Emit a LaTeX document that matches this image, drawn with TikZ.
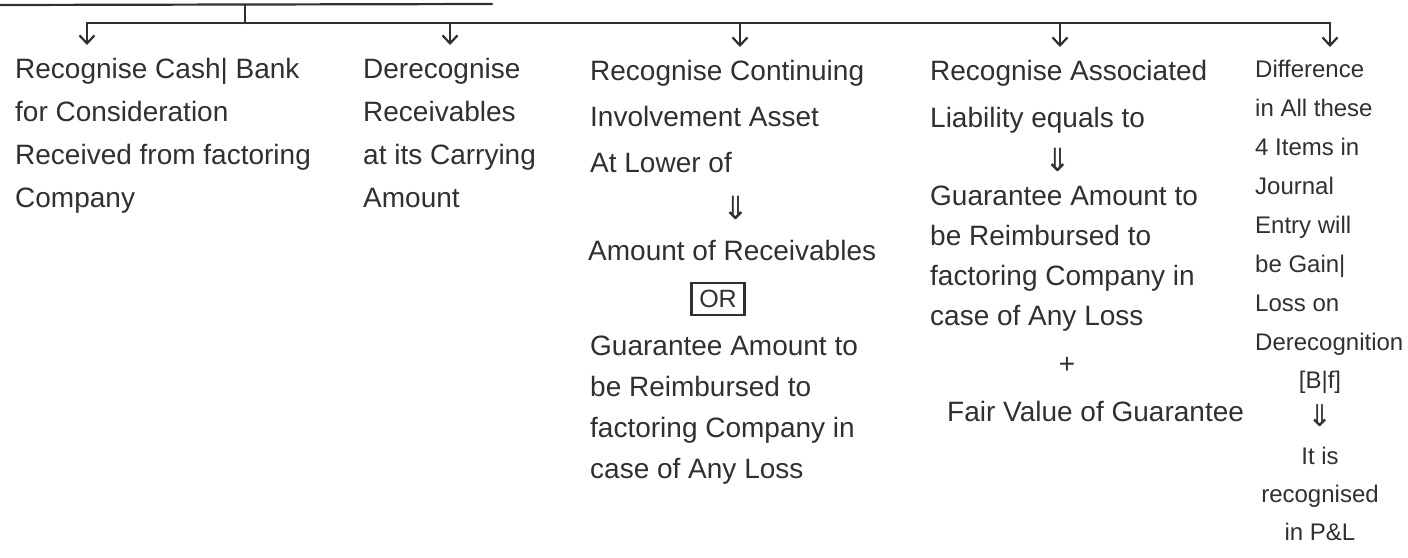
\documentclass[tikz,border=0pt]{standalone}
\usepackage{fontspec}
\setmainfont{Liberation Sans}
\newfontfamily\symfont{DejaVu Sans}
\usetikzlibrary{arrows.meta,positioning}
\definecolor{ink}{HTML}{303030}

\begin{document}
\begin{tikzpicture}[x=1pt,y=-1pt,
  wire/.style={draw=ink,line width=2.2pt,line cap=round},
  down/.style={wire,-{Straight Barb[length=8pt,width=15pt,line width=2.2pt]},shorten >=13pt},
  txt/.style={text=ink,align=left,inner sep=0pt,anchor=north west,font=\fontsize{28}{43}\selectfont},
  smalltxt/.style={txt,font=\fontsize{24}{39}\selectfont},
  dbl/.style={text=ink,inner sep=0pt,font=\symfont\fontsize{32}{32}\selectfont},
  orbox/.style={draw=ink,line width=2.2pt,text=ink,inner sep=0pt,minimum width=53pt,minimum height=32pt,font=\fontsize{25}{25}\selectfont}]
\useasboundingbox (0,0) rectangle (1408,557);
\coordinate (h0) at (0,5);
\coordinate (h1) at (492,4);
\coordinate (s) at (245,5);
\coordinate (bs) at (245,23);
\coordinate (b1) at (87,23);
\coordinate (b2) at (450,23);
\coordinate (b3) at (740,23);
\coordinate (b4) at (1060,23);
\coordinate (b5) at (1330,23);
\node[txt] (cash) at (15,58) {Recognise Cash| Bank\\for Consideration\\Received from factoring\\Company};
\node[txt] (derec) at (363,58) {Derecognise\\Receivables\\at its Carrying\\Amount};
\node[txt,font=\fontsize{28}{46}\selectfont] (cia) at (590,60) {Recognise Continuing\\Involvement Asset\\At Lower of};
\node[dbl] (cia-d) at (736,208) {⇓};
\node[txt] (amt) at (588,240) {Amount of Receivables};
\node[orbox] (or) at (718,299) {OR};
\node[txt,font=\fontsize{28}{41}\selectfont] (guar) at (590,336) {Guarantee Amount to\\be Reimbursed to\\factoring Company in\\case of Any Loss};
\node[txt,font=\fontsize{28}{47}\selectfont] (liab) at (930,60) {Recognise Associated\\Liability equals to};
\node[dbl] (liab-d) at (1058,160) {⇓};
\node[txt,font=\fontsize{28}{40}\selectfont] (guar2) at (930,186) {Guarantee Amount to\\be Reimbursed to\\factoring Company in\\case of Any Loss};
\node[txt,anchor=center] (plus) at (1067,365) {+};
\node[txt] (fv) at (947,401) {Fair Value of Guarantee};
\node[smalltxt] (diff) at (1255,60) {Difference\\in All these\\4 Items in\\Journal\\Entry will\\be Gain|\\Loss on\\Derecognition};
\node[smalltxt,align=center,anchor=north,font=\fontsize{24}{38}\selectfont] (pl) at (1320,371) {[B|f]\\{\symfont\fontsize{30}{30}\selectfont ⇓}\\It is\\recognised\\in P\&L};
\draw[wire] (h0) -- (h1);
\draw[wire] (s) -- (bs);
\draw[wire] (b1) -- (b5);
\draw[down] (b1) -- (b1 |- cash.north);
\draw[down] (b2) -- (b2 |- derec.north);
\draw[down] (b3) -- (b3 |- cia.north);
\draw[down] (b4) -- (b4 |- liab.north);
\draw[down] (b5) -- (b5 |- diff.north);
\end{tikzpicture}
\end{document}
